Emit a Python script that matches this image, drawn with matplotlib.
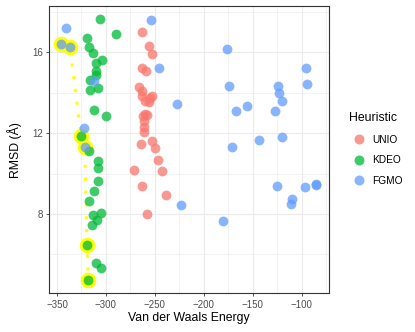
import matplotlib
matplotlib.use('Agg')
import matplotlib.pyplot as plt
from matplotlib.lines import Line2D
from matplotlib.ticker import MultipleLocator

plt.rcParams['font.family'] = ['Liberation Sans', 'DejaVu Sans']

heuristics = ['UNIO', 'KDEO', 'FGMO']
colors = ['#F8766D', '#00BA38', '#619CFF']

unio_x = [-263.6, -256.4, -252.8, -263.3, -259.2, -266.1, -263.3, -262.6, -252.8, -255.1,
          -260.2, -256.4, -260.2, -258.5, -262.0, -261.3, -261.3, -261.0, -264.3, -252.8,
          -250.0, -246.6, -271.5, -243.1, -263.6, -238.7, -257.9]
unio_y = [17.01, 16.32, 15.92, 15.23, 15.08, 14.27, 14.08, 13.85, 13.85, 13.75,
          13.60, 13.56, 12.96, 12.91, 12.83, 12.58, 12.33, 12.05, 11.47, 11.62,
          11.29, 10.68, 10.18, 10.15, 9.36, 8.94, 7.99]

kdeo_x = [-306.3, -289.2, -318.9, -317.2, -312.7, -303.9, -310.4, -310.4, -310.4, -316.5,
          -308.6, -316.5, -311.7, -299.8, -325.4, -317.2, -307.8, -308.6, -307.6, -312.1,
          -317.2, -313.5, -304.6, -309.1, -313.8, -319.3, -310.1, -305.3, -317.9]
kdeo_y = [17.67, 16.89, 16.71, 16.28, 15.98, 15.65, 15.50, 15.09, 14.89, 14.63,
          14.24, 14.15, 13.15, 12.85, 11.87, 11.14, 10.60, 10.29, 9.63, 9.15,
          8.65, 7.97, 8.04, 7.71, 7.44, 6.45, 5.59, 5.31, 4.72]

fgmo_x = [-340.4, -345.5, -336.7, -311.7, -322.7, -321.6, -254.4, -246.2, -227.2, -223.7,
          -176.0, -174.3, -95.4, -94.4, -124.4, -123.4, -120.3, -156.1, -167.4, -127.2,
          -143.2, -119.7, -171.2, -125.1, -96.5, -85.2, -84.8, -109.8, -110.8, -180.4]
fgmo_y = [17.22, 16.42, 16.27, 14.60, 12.27, 11.34, 17.59, 15.24, 13.47, 8.45,
          16.15, 14.35, 15.23, 14.46, 14.36, 13.99, 13.57, 13.37, 13.08, 13.09,
          11.66, 11.82, 11.31, 9.38, 9.33, 9.48, 9.45, 8.75, 8.50, 7.66]

path_x = [-345.5, -336.7, -325.4, -321.6, -319.3, -317.9]
path_y = [16.42, 16.27, 11.87, 11.34, 6.45, 4.72]

W, H = 415, 332
fig = plt.figure(figsize=(W / 100, H / 100), dpi=100)
ax = fig.add_axes([49 / W, 1 - 293.3 / H, (328.7 - 49) / W, (293.3 - 6) / H])
ax.set_xlim(-358.2, -72.2)
ax.set_ylim(4.07, 18.3)

ax.xaxis.set_major_locator(MultipleLocator(50))
ax.xaxis.set_minor_locator(MultipleLocator(25))
ax.yaxis.set_major_locator(MultipleLocator(4))
ax.yaxis.set_minor_locator(MultipleLocator(2))
ax.set_xticks([-350, -300, -250, -200, -150, -100])
ax.set_xticklabels(['\u2212350', '\u2212300', '\u2212250', '\u2212200', '\u2212150', '\u2212100'])
ax.set_yticks([8, 12, 16])

ax.grid(which='major', color='#EBEBEB', lw=0.8)
ax.grid(which='minor', color='#EBEBEB', lw=0.45)
ax.set_axisbelow(True)
for s in ax.spines.values():
    s.set_color('#333333')
    s.set_linewidth(0.8)
ax.tick_params(which='major', length=2.5, width=0.6, color='#333333',
               labelcolor='#4D4D4D', labelsize=7.0, pad=2)
ax.tick_params(which='minor', length=0)

# highlighted path
ax.plot(path_x, path_y, color='#FFFF00', lw=2.2, linestyle=(0, (1, 3.2)), zorder=2)
ax.scatter(path_x, path_y, s=125, color='#FFFF00', linewidths=0, zorder=2)

series = [(unio_x, unio_y), (kdeo_x, kdeo_y), (fgmo_x, fgmo_y)]
for (xs, ys), c in zip(series, colors):
    ax.scatter(xs, ys, s=50, color=c, alpha=0.75, linewidths=0, zorder=3)

ax.set_xlabel('Van der Waals Energy', fontsize=8.8, labelpad=2)
ax.set_ylabel('RMSD (\u00c5)', fontsize=8.8, labelpad=7)

handles = [Line2D([], [], marker='o', linestyle='none', markersize=7.2,
                  markerfacecolor=c, markeredgewidth=0, alpha=0.75) for c in colors]
leg = fig.legend(handles, heuristics, title='Heuristic', loc='upper left',
                 bbox_to_anchor=(345 / W, 1 - 108 / H), frameon=False,
                 fontsize=7.3, title_fontsize=8.8, handletextpad=0.35,
                 labelspacing=1.05, handlelength=1.9, alignment='left',
                 borderaxespad=0)

fig.savefig('out.png', dpi=100)
